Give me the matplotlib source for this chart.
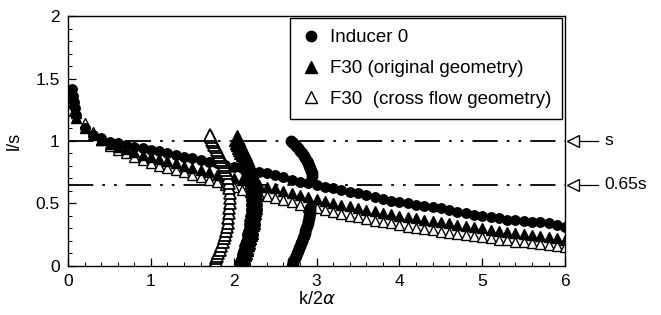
import matplotlib
matplotlib.use("Agg")
import matplotlib.pyplot as plt

plt.rcParams['font.family'] = ['Liberation Sans', 'DejaVu Sans']

# main curves, l/s vs k/2alpha
k_grid = [0.1, 0.2, 0.3, 0.4, 0.5, 0.6, 0.7, 0.8, 0.9, 1.0,
          1.1, 1.2, 1.3, 1.4, 1.5, 1.6, 1.7, 1.8, 1.9, 2.0,
          2.1, 2.2, 2.3, 2.4, 2.5, 2.6, 2.7, 2.8, 2.9, 3.0,
          3.1, 3.2, 3.3, 3.4, 3.5, 3.6, 3.7, 3.8, 3.9, 4.0,
          4.1, 4.2, 4.3, 4.4, 4.5, 4.6, 4.7, 4.8, 4.9, 5.0,
          5.1, 5.2, 5.3, 5.4, 5.5, 5.6, 5.7, 5.8, 5.9, 6.0]

ind0_k = [0.05, 0.06, 0.07, 0.08] + k_grid
ind0 = [1.42, 1.36, 1.31, 1.26,
        1.21, 1.10, 1.05, 1.02, 0.99, 0.98, 0.965, 0.95, 0.94, 0.93,
        0.92, 0.905, 0.89, 0.875, 0.86, 0.85, 0.835, 0.82, 0.805, 0.79,
        0.78, 0.765, 0.75, 0.74, 0.725, 0.71, 0.69, 0.675, 0.66, 0.645,
        0.63, 0.62, 0.61, 0.595, 0.58, 0.565, 0.55, 0.535, 0.52, 0.51,
        0.50, 0.49, 0.48, 0.47, 0.46, 0.445, 0.43, 0.42, 0.41, 0.40,
        0.39, 0.38, 0.37, 0.365, 0.36, 0.355, 0.35, 0.34, 0.33, 0.31]

orig_k = [0.05, 0.06, 0.07] + k_grid
orig = [1.37, 1.30, 1.24,
        1.18, 1.10, 1.05, 1.01, 0.975, 0.955, 0.935, 0.91, 0.89, 0.87,
        0.855, 0.84, 0.82, 0.80, 0.785, 0.765, 0.75, 0.73, 0.715, 0.70,
        0.685, 0.67, 0.65, 0.635, 0.62, 0.60, 0.585, 0.57, 0.55, 0.535,
        0.52, 0.505, 0.49, 0.48, 0.465, 0.45, 0.44, 0.425, 0.415, 0.40,
        0.39, 0.38, 0.37, 0.36, 0.35, 0.34, 0.33, 0.32, 0.31, 0.30,
        0.29, 0.28, 0.27, 0.265, 0.255, 0.245, 0.24, 0.23, 0.22, 0.21]

cross_k = k_grid
cross = [1.22, 1.14, 1.07, 1.01, 0.96, 0.93, 0.90, 0.87, 0.845, 0.82,
         0.80, 0.785, 0.77, 0.75, 0.73, 0.71, 0.69, 0.67, 0.65, 0.63,
         0.61, 0.595, 0.575, 0.56, 0.545, 0.53, 0.51, 0.49, 0.475, 0.46,
         0.445, 0.43, 0.415, 0.40, 0.39, 0.375, 0.36, 0.35, 0.34, 0.33,
         0.315, 0.305, 0.295, 0.285, 0.275, 0.265, 0.255, 0.245, 0.24, 0.23,
         0.22, 0.21, 0.205, 0.195, 0.19, 0.18, 0.175, 0.165, 0.16, 0.15]

# arch-shaped curves (k as function of l/s)
cross_arch_ls = [0.00, 0.01, 0.02, 0.03, 0.04, 0.06, 0.08, 0.10, 0.13, 0.16,
                 0.19, 0.22, 0.25, 0.28, 0.31, 0.34, 0.38, 0.42, 0.46, 0.50,
                 0.54, 0.58, 0.62, 0.66, 0.70, 0.74, 0.77, 0.79, 0.81, 0.83,
                 0.85, 0.87, 0.89, 0.91, 0.93, 0.95, 0.97, 0.99, 1.01, 1.03, 1.05]
cross_arch_k = [1.76, 1.765, 1.77, 1.775, 1.78, 1.79, 1.80, 1.815, 1.83, 1.85,
                1.865, 1.88, 1.895, 1.905, 1.915, 1.925, 1.935, 1.94, 1.945, 1.95,
                1.95, 1.95, 1.945, 1.94, 1.93, 1.915, 1.90, 1.89, 1.88, 1.865,
                1.85, 1.84, 1.825, 1.81, 1.795, 1.78, 1.765, 1.75, 1.735, 1.72, 1.71]

orig_arch_ls = [0.00, 0.02, 0.04, 0.06, 0.08, 0.10, 0.12, 0.14, 0.16, 0.18,
                0.20, 0.22, 0.24, 0.26, 0.28, 0.30, 0.32, 0.34, 0.36, 0.38,
                0.40, 0.42, 0.44, 0.46, 0.48, 0.50, 0.52, 0.54, 0.56, 0.58,
                0.60, 0.62, 0.64, 0.66, 0.68, 0.70, 0.72, 0.74, 0.76, 0.78,
                0.80, 0.82, 0.84, 0.86, 0.88, 0.90, 0.92, 0.94, 0.96, 0.98,
                1.00, 1.02]
orig_arch_k = [2.07, 2.08, 2.09, 2.10, 2.105, 2.11, 2.12, 2.13, 2.14, 2.15,
               2.16, 2.165, 2.175, 2.18, 2.19, 2.195, 2.20, 2.21, 2.215, 2.22,
               2.22, 2.225, 2.23, 2.235, 2.24, 2.24, 2.245, 2.245, 2.25, 2.25,
               2.25, 2.245, 2.245, 2.24, 2.235, 2.23, 2.22, 2.21, 2.20, 2.19,
               2.18, 2.17, 2.16, 2.145, 2.13, 2.12, 2.105, 2.09, 2.075, 2.06,
               2.05, 2.04]

ind0_arch_lo_ls = [0.00, 0.02, 0.04, 0.06, 0.08, 0.10, 0.12, 0.14, 0.16, 0.18,
                   0.20, 0.22, 0.24, 0.26, 0.28, 0.30, 0.32, 0.34, 0.36, 0.38,
                   0.40, 0.42, 0.44, 0.46]
ind0_arch_lo_k = [2.70, 2.71, 2.72, 2.735, 2.75, 2.76, 2.775, 2.79, 2.80, 2.81,
                  2.825, 2.835, 2.845, 2.855, 2.865, 2.875, 2.885, 2.89, 2.90, 2.905,
                  2.91, 2.915, 2.92, 2.925]
ind0_arch_hi_ls = [0.72, 0.74, 0.76, 0.78, 0.80, 0.82, 0.84, 0.86, 0.88, 0.90,
                   0.92, 0.94, 0.96, 0.98, 1.00]
ind0_arch_hi_k = [2.945, 2.94, 2.935, 2.925, 2.91, 2.895, 2.88, 2.865, 2.845, 2.825,
                  2.80, 2.78, 2.75, 2.72, 2.69]

ref_levels = [1.0, 0.65]
ref_labels = ['s', '0.65s']

fig = plt.figure(figsize=(6.61, 3.15), dpi=100)
ax = fig.add_axes([0.103, 0.156, 0.752, 0.793])

dash = (0, (14, 5, 1.5, 5, 1.5, 5))
for lv in ref_levels:
    ax.plot([0, 6], [lv, lv], color='k', lw=1.3, linestyle=dash, zorder=1)

ms = 6.8
ax.plot(ind0_k, ind0, 'o', color='k', ms=ms, label='Inducer 0', zorder=3)
ax.plot(orig_k, orig, '^', color='k', ms=ms + 0.5, label='F30 (original geometry)', zorder=3)
ax.plot(cross_k, cross, '^', mfc='white', mec='k', mew=1.0, ms=ms + 0.5,
        label='F30  (cross flow geometry)', zorder=2)

ax.plot(ind0_arch_lo_k, ind0_arch_lo_ls, 'o', color='k', ms=7.5, zorder=3)
ax.plot(ind0_arch_hi_k, ind0_arch_hi_ls, 'o', color='k', ms=7.5, zorder=3)
ax.plot(orig_arch_k, orig_arch_ls, '^', color='k', ms=11, zorder=3)
ax.plot(cross_arch_k, cross_arch_ls, '^', mfc='white', mec='k', mew=1.3, ms=8.5, zorder=3)

# markers at right edge pointing at the reference levels
for lv, lab in zip(ref_levels, ref_labels):
    ax.plot([6.1, 6.4], [lv, lv], color='k', lw=0.9, clip_on=False)
    ax.plot([6.1], [lv], marker='<', ms=9, mfc='white', mec='k', mew=1.0, clip_on=False)
    ax.text(6.47, lv, lab, fontsize=12.5, va='center', ha='left')

ax.set_xlim(0, 6)
ax.set_ylim(0, 2)
ax.set_xticks([0, 1, 2, 3, 4, 5, 6])
ax.set_yticks([0, 0.5, 1, 1.5, 2])
ax.set_yticklabels(['0', '0.5', '1', '1.5', '2'])
ax.set_xticks([i * 0.2 for i in range(31)], minor=True)
ax.set_yticks([i * 0.1 for i in range(21)], minor=True)
ax.tick_params(direction='in', labelsize=12.5, length=6, width=0.9, pad=6)
ax.tick_params(which='minor', direction='in', length=3, width=0.7)
for sp in ax.spines.values():
    sp.set_linewidth(1.0)

ax.set_xlabel(r'k/2$\alpha$', fontsize=13, labelpad=1)
ax.set_ylabel('l/s', fontsize=13, labelpad=9)

leg = ax.legend(loc='upper right', bbox_to_anchor=(0.994, 0.992), fontsize=13.5,
                frameon=True, fancybox=False, edgecolor='k', framealpha=1,
                borderpad=0.6, labelspacing=0.72, handletextpad=0.5,
                handlelength=1.0, markerscale=1.1, borderaxespad=0)
leg.get_frame().set_linewidth(1.0)

fig.savefig('out.png', dpi=100)
